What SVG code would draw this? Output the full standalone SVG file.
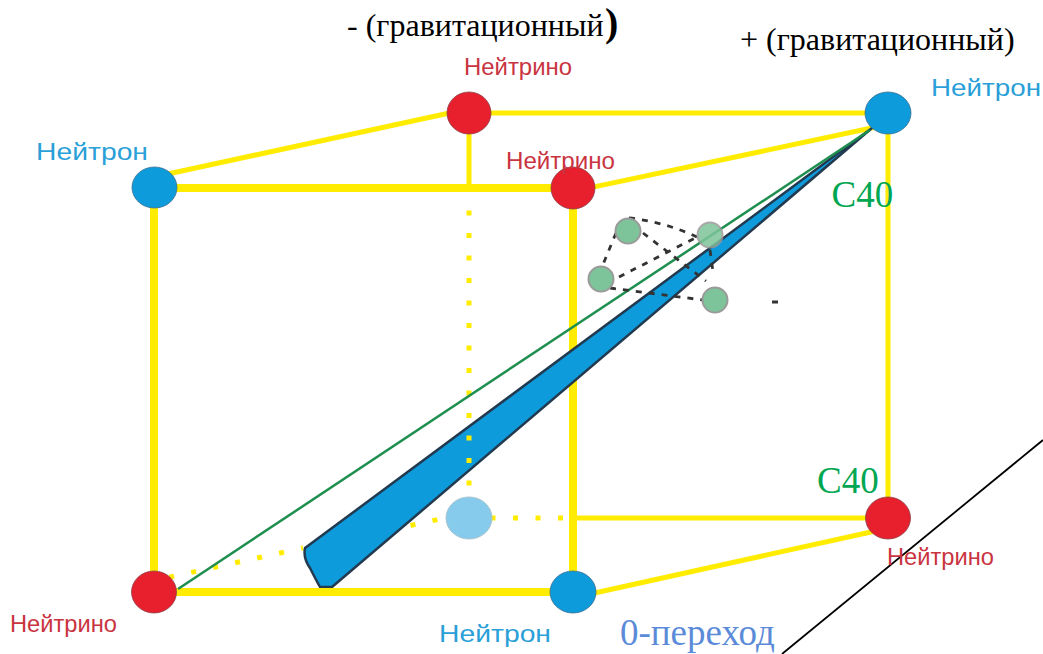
<svg xmlns="http://www.w3.org/2000/svg" width="1043" height="654" viewBox="0 0 1043 654">
<style>
.e{stroke:#ffec00;fill:none}
.t{stroke-width:8}
.m{stroke-width:5}
.d{stroke-width:5;stroke-dasharray:5 17.5}
.k{stroke:#333;stroke-width:2.8;stroke-dasharray:6 7;fill:none}
.b{fill:#0e9bdc;stroke:#3a6f90;stroke-width:.8}
.r{fill:#e81f2c;stroke:#8a4048;stroke-width:.8}
.g{fill:#7dc49a;stroke:#9a9a9a;stroke-width:2}
.s{font-family:"Liberation Sans",Arial,sans-serif;font-size:24px}
.bt{fill:#2a9fd8}
.rt{fill:#c9343f}
.f{font-family:"Liberation Serif","Times New Roman",serif}
</style>
<rect width="1043" height="654" fill="#fff"/>
<g id="connectors">
<path class="e d" d="M169.2 577.2L303 548M410.5 525.5L440 519M490.5 518H565"/>
<path class="e t" d="M154 188H573M154 188V592M573 188V592M154 592H573"/>
<path class="e m" d="M154 177L468 109M468 113H888M573 191.4L888 124.5M888 113V518M573 518H888M573 597.8L888 528.2M469 134V190"/>
<path d="M872 128L305 548Q303 558 310 568Q316 580 320 587L332 587Z" fill="#0e9bdc" stroke="#223a50" stroke-width="2.5" stroke-linejoin="round"/>
<path class="e t" d="M300 592H400"/>
<path class="e d" d="M469 210.5V486"/>
<path d="M178 589L870 130" stroke="#1f8f50" stroke-width="2.5" fill="none"/>
<path class="k" d="M629 218Q665 222 697 237M616 233L602 267M619 277L697 237M643 233L706 281M710 250L713 272M610 288L703 300M772 302H778"/>
<path d="M782 654L1043 440" stroke="#000" stroke-width="1.8" fill="none"/>
</g>
<g id="n1"><ellipse class="r" cx="469" cy="113" rx="22" ry="21"/><text class="s rt" x="464" y="75" textLength="108" lengthAdjust="spacingAndGlyphs">Нейтрино</text></g>
<g id="n2"><ellipse class="b" cx="888" cy="113" rx="23" ry="21"/><text class="s bt" x="931" y="96" textLength="110" lengthAdjust="spacingAndGlyphs">Нейтрон</text></g>
<g id="n3"><ellipse class="b" cx="154.5" cy="187.5" rx="22.5" ry="20.5"/><text class="s bt" x="36" y="160" textLength="112" lengthAdjust="spacingAndGlyphs">Нейтрон</text></g>
<g id="n4"><ellipse class="r" cx="573" cy="188" rx="22" ry="21"/><text class="s rt" x="506" y="169" textLength="109" lengthAdjust="spacingAndGlyphs">Нейтрино</text></g>
<g id="n5"><ellipse class="r" cx="154" cy="592" rx="22.5" ry="21"/><text class="s rt" x="10" y="632" textLength="107" lengthAdjust="spacingAndGlyphs">Нейтрино</text></g>
<g id="n6"><ellipse class="b" cx="573" cy="592" rx="23" ry="21"/><text class="s bt" x="439" y="642" textLength="112" lengthAdjust="spacingAndGlyphs">Нейтрон</text></g>
<g id="n7"><ellipse class="r" cx="888" cy="518" rx="22.5" ry="21"/><text class="s rt" x="887" y="565" textLength="107" lengthAdjust="spacingAndGlyphs">Нейтрино</text></g>
<g id="n8"><ellipse cx="469" cy="518" rx="23" ry="21" fill="#87cbec" stroke="#a8c4d0" stroke-width="1"/></g>
<g id="c1"><circle class="g" cx="628" cy="231" r="12.5"/></g>
<g id="c2" opacity=".85"><circle class="g" cx="710" cy="235" r="12.5"/></g>
<g id="c3"><circle class="g" cx="601" cy="279" r="12.5"/></g>
<g id="c4"><circle class="g" cx="715" cy="300" r="12.5"/></g>
<g id="labels">
<text class="f" x="347" y="36" font-size="32" fill="#000">- (гравитационный</text>
<text class="f" x="605" y="36" font-size="40" font-weight="bold" fill="#000">)</text>
<text class="f" x="740" y="50" font-size="32" fill="#000">+ (гравитационный)</text>
<text class="f" x="831.5" y="207" font-size="37" fill="#00a651">C40</text>
<text class="f" x="817" y="493" font-size="37" fill="#00a651">C40</text>
<text class="f" x="620" y="645" font-size="37" fill="#5b8bd8">0-переход</text>
</g>
</svg>
